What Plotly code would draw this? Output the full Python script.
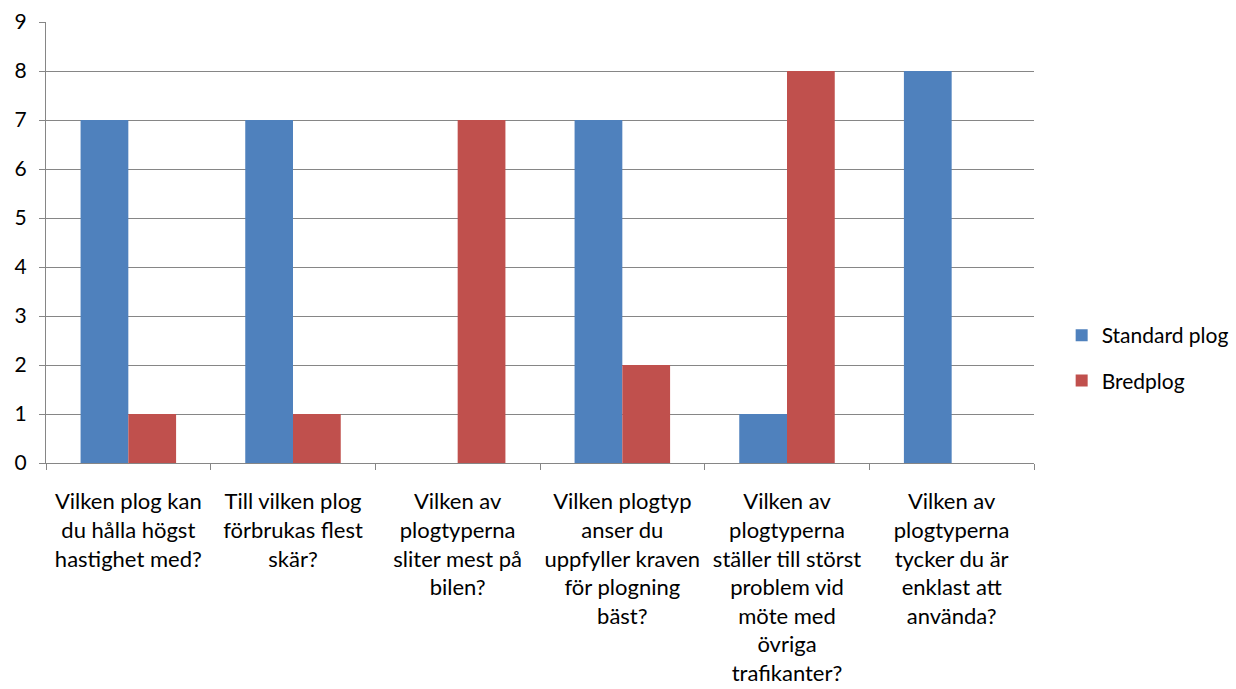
import plotly.graph_objects as go

# Survey questions (category labels, wrapped as in the chart)
questions = [
    "Vilken plog kan<br>du hålla högst<br>hastighet med?",
    "Till vilken plog<br>förbrukas flest<br>skär?",
    "Vilken av<br>plogtyperna<br>sliter mest på<br>bilen?",
    "Vilken plogtyp<br>anser du<br>uppfyller kraven<br>för plogning<br>bäst?",
    "Vilken av<br>plogtyperna<br>ställer till störst<br>problem vid<br>möte med<br>övriga<br>trafikanter?",
    "Vilken av<br>plogtyperna<br>tycker du är<br>enklast att<br>använda?",
]
standard_plog = [7, 7, 0, 7, 1, 8]
bredplog = [1, 1, 7, 2, 8, 0]
y_ticks = list(range(0, 10))

BLUE = "#4F81BD"
RED = "#C0504D"
FONT = "Lato"
TEXT = "#000000"

fig = go.Figure()
fig.add_trace(go.Bar(x=questions, y=standard_plog, name="Standard plog",
                     marker=dict(color=BLUE, line=dict(width=0)),
                     legendgroup="a"))
fig.add_trace(go.Bar(x=questions, y=bredplog, name="Bredplog",
                     marker=dict(color=RED, line=dict(width=0)),
                     legendgroup="b"))

fig.update_layout(
    width=1236, height=689,
    margin=dict(l=46, r=202, t=22, b=226, autoexpand=False),
    paper_bgcolor="white", plot_bgcolor="white",
    barmode="group", bargap=0.42, bargroupgap=0,
    font=dict(family=FONT, size=22, color=TEXT),
    legend=dict(x=1.028, y=0.238, xanchor="left", yanchor="middle",
                traceorder="grouped", tracegroupgap=15,
                font=dict(family=FONT, size=21, color=TEXT),
                itemwidth=30),
    showlegend=True,
)
fig.update_xaxes(
    showline=True, linecolor="#868686", linewidth=1,
    ticks="outside", tickson="boundaries", ticklen=6, tickcolor="#868686",
    showgrid=False, tickangle=0, ticklabelstandoff=19,
    tickfont=dict(family=FONT, size=22, color=TEXT),
)
fig.update_yaxes(
    range=[0, 9], tickvals=y_ticks, showline=True, linecolor="#868686",
    linewidth=1, ticks="outside", ticklen=6, tickcolor="#868686",
    showgrid=True, gridcolor="#868686", gridwidth=1, zeroline=False,
    tickfont=dict(family=FONT, size=21, color=TEXT), ticklabelstandoff=8,
)

fig.write_html("out.html")
